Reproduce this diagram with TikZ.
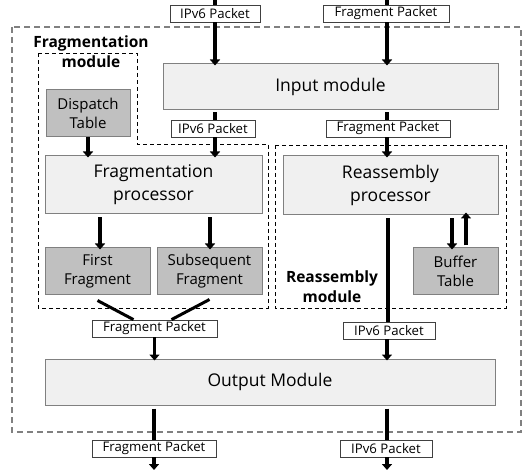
\documentclass[tikz,border=0pt]{standalone}
\usepackage{fontspec}
\setmainfont{Open Sans}
\usetikzlibrary{arrows.meta}
\definecolor{bigfill}{HTML}{F0F0F0}
\definecolor{grayfill}{HTML}{C0C0C0}
\definecolor{edge}{HTML}{808080}
\tikzset{
  bigbox/.style={draw=edge, fill=bigfill, line width=1pt, inner sep=0pt, align=center,
    font=\fontsize{17.5}{23}\selectfont},
  graybox/.style={draw=edge, fill=grayfill, line width=1pt, inner sep=0pt, align=center,
    font=\fontsize{15}{19}\selectfont},
  pkt/.style={draw=black!75, fill=white, line width=0.8pt, inner sep=0pt,
    minimum height=17pt, font=\fontsize{13.2}{14}\selectfont},
  modlabel/.style={align=center, font=\bfseries\fontsize{15.5}{20}\selectfont},
  conn/.style={line width=3.5pt},
  arr/.style={line width=3.5pt, -{Triangle[width=10pt,length=6pt]}},
  moddash/.style={draw=black, line width=0.9pt, dash pattern=on 4pt off 3pt},
  outerdash/.style={draw=black!50, line width=1.1pt, dash pattern=on 6pt off 4pt},
}
\begin{document}
\begin{tikzpicture}[x=1pt,y=-1pt]
\useasboundingbox (0,0) rectangle (527,470);
% dashed containers
\draw[outerdash] (12,27) rectangle (521,432);
\draw[moddash] (38,53) -- (137,53) -- (137,144) -- (268,144) -- (268,308) -- (38,308) -- cycle;
\draw[moddash] (275,145) rectangle (506,308);

% boxes
\node[bigbox, minimum width=335pt, minimum height=46pt] (in) at (330.5,87) {Input module};
\node[bigbox, minimum width=217pt, minimum height=58pt] (fp) at (153.5,185) {Fragmentation\\processor};
\node[bigbox, minimum width=215pt, minimum height=59pt] (rp) at (390.5,185.5) {Reassembly\\processor};
\node[graybox, minimum width=84pt, minimum height=47pt] (disp) at (88,113.5) {Dispatch\\Table};
\node[graybox, minimum width=105pt, minimum height=46pt] (first) at (97.5,271) {First\\Fragment};
\node[graybox, minimum width=105pt, minimum height=46pt] (subs) at (209.5,271) {Subsequent\\Fragment};
\node[graybox, minimum width=85pt, minimum height=46pt] (buf) at (455.5,271) {Buffer\\Table};
\node[bigbox, minimum width=450pt, minimum height=46pt] (out) at (270,382) {Output Module};

% module labels
\node[modlabel] (fmlab) at (91,52) {Fragmentation\\module};
\node[modlabel] (rmlab) at (332,287) {Reassembly\\module};

% column coordinates and free ends
\coordinate (t1) at (215,0);
\coordinate (t2) at (387,0);
\coordinate (b1) at (154,470);
\coordinate (b2) at (387,470);
\coordinate (cA) at (100,0);
\coordinate (cB) at (210,0);
\coordinate (cD) at (452,0);
\coordinate (cU) at (466,0);
\coordinate (cR) at (388,0);

% packet labels
\node[pkt, minimum width=90pt] (l1) at (215,13.5) {IPv6 Packet};
\node[pkt, minimum width=126pt] (l2) at (386,13.5) {Fragment Packet};
\node[pkt, minimum width=84pt] (l3) at (213,128.5) {IPv6 Packet};
\node[pkt, minimum width=124pt] (l4) at (388,128.5) {Fragment Packet};
\node[pkt, minimum width=125pt] (l5) at (154.5,328.5) {Fragment Packet};
\node[pkt, minimum width=92pt] (l6) at (389,330.5) {IPv6 Packet};
\node[pkt, minimum width=124pt] (l7) at (154,448.5) {Fragment Packet};
\node[pkt, minimum width=92pt] (l8) at (386,448.5) {IPv6 Packet};

% connectors
\draw[conn] (t1) -- (t1 |- l1.north);
\draw[arr] (t1 |- l1.south) -- ([yshift=-2pt]t1 |- in.north);
\draw[conn] (t2) -- (t2 |- l2.north);
\draw[arr] (t2 |- l2.south) -- ([yshift=-2pt]t2 |- in.north);

\draw[conn] ([yshift=-2pt]t1 |- in.south) -- (t1 |- l3.north);
\draw[arr] (t1 |- l3.south) -- ([yshift=-2pt]t1 |- fp.north);
\draw[conn] ([yshift=-2pt]t2 |- in.south) -- (t2 |- l4.north);
\draw[arr] (t2 |- l4.south) -- ([yshift=-2pt]t2 |- fp.north);

\draw[arr] (disp.south) -- ([yshift=-2pt]disp.south |- fp.north);

\draw[arr] ([yshift=-3pt]cA |- fp.south) -- ([yshift=-2pt]cA |- first.north);
\draw[arr] ([yshift=-3pt]cB |- fp.south) -- ([yshift=-2pt]cB |- subs.north);

\draw[arr] ([yshift=-3pt]cD |- rp.south) -- ([yshift=-2pt]cD |- buf.north);
\draw[arr] ([yshift=2pt]cU |- buf.north) -- ([yshift=3pt]cU |- rp.south);

\draw[conn] ([yshift=-3pt]cR |- rp.south) -- (cR |- l6.north);
\draw[arr] (t2 |- l6.south) -- ([yshift=-2pt]t2 |- out.north);

\draw[line width=3pt] ([yshift=-6pt]first.south) -- ([xshift=-21pt]l5.north);
\draw[line width=3pt] ([yshift=-5pt]subs.south) -- ([xshift=17pt]l5.north);
\draw[arr] (l5.south) -- ([yshift=-2pt]l5.south |- out.north);

\draw[conn] ([yshift=-3pt]b1 |- out.south) -- (b1 |- l7.north);
\draw[arr] (b1 |- l7.south) -- (b1);
\draw[conn] ([yshift=-3pt]b2 |- out.south) -- (b2 |- l8.north);
\draw[arr] (b2 |- l8.south) -- (b2);
\end{tikzpicture}
\end{document}
